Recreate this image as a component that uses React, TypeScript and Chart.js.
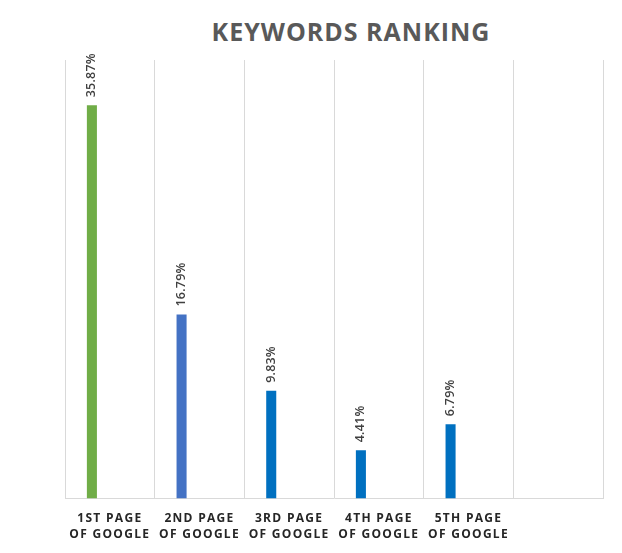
import React, { useEffect, useRef } from "react";
import { Chart, registerables } from "chart.js";

Chart.register(...registerables);

const categories: string[][] = [
  ["1ST PAGE", "OF GOOGLE"],
  ["2ND PAGE", "OF GOOGLE"],
  ["3RD PAGE", "OF GOOGLE"],
  ["4TH PAGE", "OF GOOGLE"],
  ["5TH PAGE", "OF GOOGLE"],
  [""],
];
const rankingValues: (number | null)[] = [35.87, 16.79, 9.83, 4.41, 6.79, null];
const emptySeries: (number | null)[] = [null, null, null, null, null, null];
const barColors: string[] = ["#70AD47", "#4472C4", "#0070C0", "#0070C0", "#0070C0", "#0070C0"];
const yMax = 40;

const spacingPlugin = {
  id: "letterSpacing",
  beforeLayout(chart: any) {
    (chart.ctx as any).letterSpacing = "1.3px";
  },
  beforeDraw(chart: any) {
    (chart.ctx as any).letterSpacing = "1.3px";
  },
};

const valueLabelPlugin = {
  id: "valueLabels",
  afterDatasetsDraw(chart: any) {
    const ctx = chart.ctx as CanvasRenderingContext2D;
    const meta = chart.getDatasetMeta(0);
    const data = chart.data.datasets[0].data as (number | null)[];
    ctx.save();
    (ctx as any).letterSpacing = "0.2px";
    ctx.font = "600 12.5px 'Open Sans'";
    ctx.fillStyle = "#404040";
    ctx.textAlign = "left";
    ctx.textBaseline = "middle";
    meta.data.forEach((bar: any, i: number) => {
      const v = data[i];
      if (v == null) return;
      const text = v.toFixed(2) + "%";
      const w = ctx.measureText(text).width;
      let start = bar.y - 8;
      const minTop = chart.chartArea.top - 7;
      if (start - w < minTop) start = minTop + w;
      ctx.save();
      ctx.translate(bar.x, start);
      ctx.rotate(-Math.PI / 2);
      ctx.fillText(text, 0, 0);
      ctx.restore();
    });
    ctx.restore();
  },
};

export default function App() {
  const canvasRef = useRef<HTMLCanvasElement | null>(null);

  useEffect(() => {
    if (!canvasRef.current) return;
    const chart = new Chart(canvasRef.current, {
      type: "bar",
      data: {
        labels: categories,
        datasets: [
          {
            data: rankingValues,
            backgroundColor: barColors,
            barPercentage: 0.28,
            categoryPercentage: 0.8,
          },
          {
            data: emptySeries,
            backgroundColor: "#ED7D31",
            barPercentage: 0.28,
            categoryPercentage: 0.8,
          },
        ],
      },
      options: {
        responsive: false,
        animation: false,
        layout: { padding: { left: 65, right: 19, top: 60, bottom: -2 } },
        plugins: {
          legend: { display: false },
          title: { display: false },
          tooltip: { enabled: false },
        },
        scales: {
          x: {
            offset: true,
            grid: { color: "#D9D9D9", drawTicks: false, offset: true },
            border: { color: "#D9D9D9" },
            ticks: {
              autoSkip: false,
              maxRotation: 0,
              minRotation: 0,
              padding: 12,
              color: "#262626",
              font: { family: "'Open Sans'", size: 12, weight: "bold", lineHeight: 1.35 },
            },
          },
          y: {
            display: false,
            min: 0,
            max: yMax,
          },
        },
      },
      plugins: [spacingPlugin, valueLabelPlugin],
    });
    return () => chart.destroy();
  }, []);

  return (
    <div style={{ position: "absolute", left: 0, top: 0, width: 622, height: 553, background: "#fff" }}>
      <div
        style={{
          position: "absolute",
          left: 0,
          width: 702,
          top: 16,
          textAlign: "center",
          fontFamily: "'Open Sans', sans-serif",
          fontWeight: 700,
          fontSize: 25,
          lineHeight: "30px",
          letterSpacing: "1px",
          color: "#595959",
        }}
      >
        KEYWORDS RANKING
      </div>
      <canvas ref={canvasRef} width={622} height={553} style={{ position: "absolute", left: 0, top: 0 }} />
    </div>
  );
}
